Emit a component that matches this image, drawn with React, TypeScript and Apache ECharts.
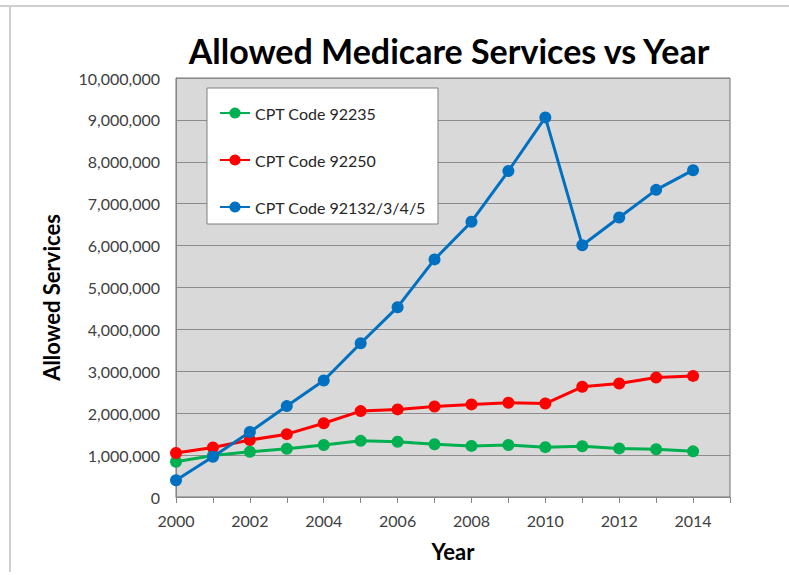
import React, { useEffect, useRef } from "react";
import * as echarts from "echarts";

const years = [2000, 2001, 2002, 2003, 2004, 2005, 2006, 2007, 2008, 2009, 2010, 2011, 2012, 2013, 2014];
const code92235 = [840000, 990000, 1080000, 1150000, 1240000, 1340000, 1320000, 1260000, 1220000, 1240000, 1190000, 1210000, 1160000, 1140000, 1090000];
const code92250 = [1050000, 1180000, 1360000, 1500000, 1760000, 2050000, 2090000, 2160000, 2210000, 2250000, 2230000, 2630000, 2710000, 2850000, 2890000];
const code92132 = [400000, 960000, 1550000, 2170000, 2780000, 3670000, 4530000, 5670000, 6570000, 7780000, 9060000, 6010000, 6670000, 7330000, 7800000];
const seriesNames = ["CPT Code 92235", "CPT Code 92250", "CPT Code 92132/3/4/5"];
const seriesColors = ["#00b050", "#ff0000", "#0070c0"];

const FONT = "Lato, 'Open Sans', sans-serif";

export default function App() {
  const ref = useRef<HTMLDivElement>(null);
  useEffect(() => {
    if (!ref.current) return;
    const chart = echarts.init(ref.current, undefined, { renderer: "svg" });
    const allData = [code92235, code92250, code92132];
    chart.setOption({
      animation: false,
      backgroundColor: "#ffffff",
      textStyle: { fontFamily: FONT },
      title: {
        text: "Allowed Medicare Services vs Year",
        left: 444,
        top: 28,
        textAlign: "center",
        textStyle: { fontFamily: FONT, fontWeight: "bold", fontSize: 34, color: "#000000" },
      },
      graphic: [
        { type: "line", shape: { x1: 0, y1: 6, x2: 789, y2: 6 }, style: { stroke: "#cfcfcf", lineWidth: 2 }, silent: true },
        { type: "line", shape: { x1: 10, y1: 6, x2: 10, y2: 572 }, style: { stroke: "#cfcfcf", lineWidth: 2 }, silent: true },
        {
          type: "rect",
          shape: { x: 207, y: 88, width: 231, height: 136 },
          style: { fill: "#ffffff", stroke: "#7f7f7f", lineWidth: 1 },
          z: 10,
          silent: true,
        },
      ],
      legend: {
        orient: "vertical",
        left: 219,
        top: 105,
        itemWidth: 30,
        itemHeight: 14,
        itemGap: 31,
        padding: 0,
        z: 20,
        textStyle: { fontFamily: FONT, fontSize: 16, color: "#262626" },
        data: seriesNames,
      },
      grid: {
        left: 176,
        right: 59,
        top: 78,
        bottom: 78,
        show: true,
        backgroundColor: "#d9d9d9",
        borderColor: "#707070",
        borderWidth: 1,
      },
      xAxis: {
        type: "value",
        min: 2000,
        max: 2015,
        interval: 1,
        name: "Year",
        nameLocation: "middle",
        nameGap: 43,
        nameTextStyle: { fontFamily: FONT, fontWeight: "bold", fontSize: 22, color: "#000000" },
        axisLine: { show: true, lineStyle: { color: "#868686", width: 1 } },
        axisTick: { show: true, length: 6, lineStyle: { color: "#868686" } },
        splitLine: { show: false },
        axisLabel: {
          margin: 15,
          fontFamily: FONT,
          fontSize: 16,
          color: "#404040",
          formatter: (v: number) => (v % 2 === 0 && v < 2015 ? String(v) : ""),
        },
      },
      yAxis: {
        type: "value",
        min: 0,
        max: 10000000,
        interval: 1000000,
        name: "Allowed Services",
        nameLocation: "middle",
        nameGap: 114,
        nameTextStyle: { fontFamily: FONT, fontWeight: "bold", fontSize: 22, color: "#000000", padding: [0, 20, 0, 0] },
        axisLine: { show: true, lineStyle: { color: "#868686", width: 1 } },
        axisTick: { show: false },
        splitLine: { show: true, lineStyle: { color: "#8c8c8c", width: 1 } },
        axisLabel: {
          margin: 16,
          fontFamily: FONT,
          fontSize: 16,
          color: "#404040",
          formatter: (v: number) => v.toLocaleString("en-US"),
        },
      },
      series: seriesNames.map((name, i) => ({
        name,
        type: "line",
        data: years.map((y, j) => [y, allData[i][j]]),
        symbol: "circle",
        symbolSize: 12,
        lineStyle: { color: seriesColors[i], width: 3 },
        itemStyle: { color: seriesColors[i] },
        z: 2 + i,
      })),
    });
    return () => chart.dispose();
  }, []);
  return (
    <div
      ref={ref}
      style={{ position: "absolute", left: 0, top: 0, width: 789, height: 575 }}
    />
  );
}
